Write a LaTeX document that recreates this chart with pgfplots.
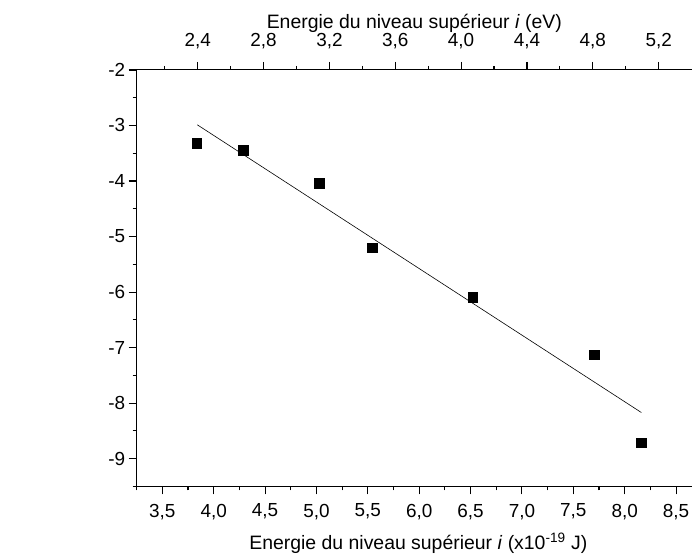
\documentclass[border=0pt]{standalone}
\usepackage[no-math]{fontspec}
\setmainfont{Liberation Sans}
\usepackage{pgfplots}
\pgfplotsset{compat=1.18}
\newcommand{\tf}[1]{\hbox{\fontsize{19}{22}\selectfont #1}}
\begin{document}
\begin{tikzpicture}
\pgfplotsset{
  common/.style={
    scale only axis, width=555.7bp, height=416.7bp,
    ymin=-9.5, ymax=-2,
    axis line style={line width=1.1pt, -},
    tick align=outside, major tick length=8bp, minor tick length=4bp,
    every tick/.style={black, line width=1.1pt},
    label style={font=\fontsize{19.5}{23}\selectfont},
  }
}
\begin{axis}[common,
  xmin=3.25, xmax=8.655,
  axis x line*=bottom, axis y line*=left,
  xtick={3.5,4.0,4.5,5.0,5.5,6.0,6.5,7.0,7.5,8.0,8.5},
  xticklabels={\tf{3,5},\tf{4,0},\tf{4,5},\tf{5,0},\tf{5,5},\tf{6,0},\tf{6,5},\tf{7,0},\tf{7,5},\tf{8,0},\tf{8,5}},
  minor xtick={3.25,3.75,4.25,4.75,5.25,5.75,6.25,6.75,7.25,7.75,8.25},
  ytick={-9,-8,-7,-6,-5,-4,-3,-2},
  yticklabels={\tf{-9},\tf{-8},\tf{-7},\tf{-6},\tf{-5},\tf{-4},\tf{-3},\tf{-2}},
  minor ytick={-9.5,-8.5,-7.5,-6.5,-5.5,-4.5,-3.5,-2.5},
  xticklabel shift=6bp,
  xlabel={Energie du niveau supérieur \textit{i} (x10\textsuperscript{-19} J)},
  xlabel style={at={(rel axis cs:0.5,0)}, anchor=base, yshift=-63.3bp, xshift=4bp},
]
\addplot[only marks, mark=square*, mark size=4.7bp, black] coordinates {
  (3.834,-3.322) (4.287,-3.442) (5.026,-4.036) (5.541,-5.200)
  (6.522,-6.090) (7.702,-7.127) (8.162,-8.715)
};
\addplot[black, line width=0.6pt] coordinates {(3.840,-2.987) (8.162,-8.169)};
\node at (rel axis cs:0,0.554) [xshift=-78.7bp, font=\fontsize{15.5}{18}\selectfont] {$\displaystyle\log\!\left(\frac{I\lambda}{Ag}\right)_{\!i\to j}$};
\end{axis}
\begin{axis}[common,
  xmin=2.02871, xmax=5.40262,
  axis x line*=top, axis y line=none,
  xtick={2.4,2.8,3.2,3.6,4.0,4.4,4.8,5.2},
  xticklabels={\tf{2,4},\tf{2,8},\tf{3,2},\tf{3,6},\tf{4,0},\tf{4,4},\tf{4,8},\tf{5,2}},
  minor xtick={2.2,2.6,3.0,3.4,3.8,4.2,4.6,5.0},
  xticklabel shift=10bp,
  xlabel={Energie du niveau supérieur \textit{i} (eV)},
  xlabel style={at={(rel axis cs:0.5,1)}, anchor=base, yshift=41.7bp},
]
\end{axis}
\path[use as bounding box] ([xshift=-136.7bp,yshift=-67.3bp]current axis.south west) rectangle ([xshift=1bp,yshift=70bp]current axis.north east);
\end{tikzpicture}
\end{document}
